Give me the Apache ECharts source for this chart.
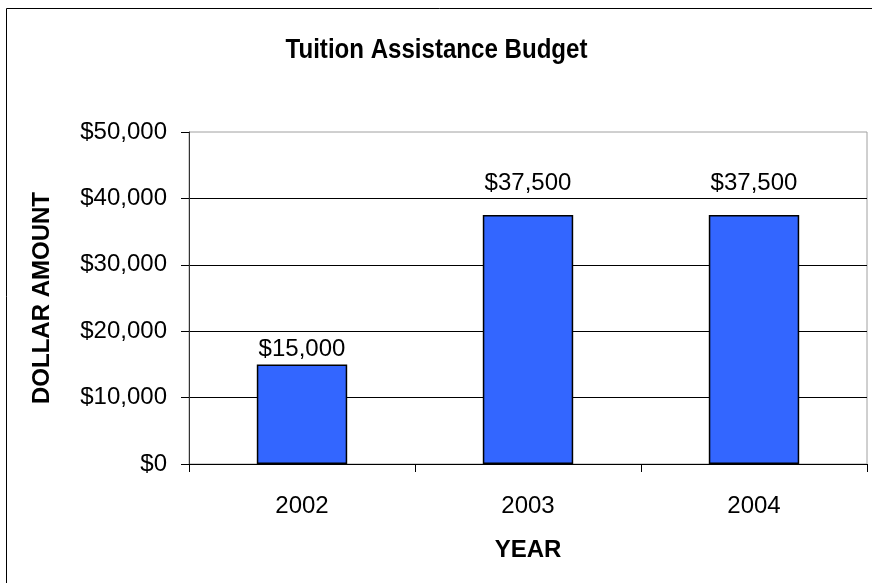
<!DOCTYPE html>
<html>
<head>
<meta charset="utf-8">
<script src="https://cdn.jsdelivr.net/npm/echarts@6/dist/echarts.min.js"></script>
<style>
html,body{margin:0;padding:0;background:#fff;}
#chart{width:872px;height:583px;}
</style>
</head>
<body>
<div id="chart"></div>
<script>
const titleText = 'Tuition Assistance Budget';
const categories = ['2002', '2003', '2004'];
const budgetValues = [15000, 37500, 37500];
const yTickMin = 0;
const yTickMax = 50000;
const yTickStep = 10000;
const xAxisName = 'YEAR';
const yAxisName = 'DOLLAR AMOUNT';

// label offsets above each bar (style, kept apart from data)
const labelDistances = [3, 20, 20];

const FONT = 'Arial, "Liberation Sans", sans-serif';
const money = v => '$' + Number(v).toLocaleString('en-US');

const chart = echarts.init(document.getElementById('chart'), null, {renderer: 'canvas'});
chart.setOption({
  animation: false,
  backgroundColor: '#ffffff',
  textStyle: {fontFamily: FONT, color: '#000'},
  graphic: [{
    type: 'rect',
    silent: true,
    z: -10,
    shape: {x: 6.5, y: 8.5, width: 900, height: 700},
    style: {fill: 'none', stroke: '#000', lineWidth: 1}
  }, {
    type: 'text',
    silent: true,
    x: 436.5,
    y: 50,
    scaleX: 0.86,
    style: {
      text: titleText,
      font: 'bold 28px ' + FONT,
      fill: '#000',
      textAlign: 'center',
      textVerticalAlign: 'middle'
    }
  }],
  grid: {
    left: 189, top: 132, right: 5, bottom: 119,
    show: true, borderColor: '#a0a0a0', borderWidth: 1, backgroundColor: 'transparent'
  },
  xAxis: {
    type: 'category',
    data: categories,
    name: xAxisName,
    nameLocation: 'middle',
    nameGap: 74,
    nameTextStyle: {fontFamily: FONT, fontSize: 24, fontWeight: 'bold', color: '#000'},
    axisLine: {lineStyle: {color: '#000', width: 1}},
    axisTick: {show: true, length: 8, lineStyle: {color: '#000'}},
    axisLabel: {fontFamily: FONT, fontSize: 24, color: '#000', margin: 30},
    splitLine: {show: false}
  },
  yAxis: {
    type: 'value',
    min: yTickMin,
    max: yTickMax,
    interval: yTickStep,
    name: yAxisName,
    nameLocation: 'middle',
    nameGap: 135,
    nameRotate: 90,
    nameTextStyle: {fontFamily: FONT, fontSize: 24, fontWeight: 'bold', color: '#000'},
    axisLine: {show: true, lineStyle: {color: '#333', width: 1}},
    axisTick: {show: true, length: 8, lineStyle: {color: '#000'}},
    axisLabel: {fontFamily: FONT, fontSize: 24, color: '#000', margin: 22, formatter: money},
    splitLine: {show: true, showMinLine: false, showMaxLine: false, lineStyle: {color: '#000', width: 1}}
  },
  series: [{
    type: 'bar',
    data: budgetValues.map((v, i) => ({value: v, label: {distance: labelDistances[i]}})),
    barWidth: '40%',
    itemStyle: {color: '#3366FF', borderColor: '#000', borderWidth: 1.5},
    label: {
      show: true,
      position: 'top',
      fontFamily: FONT,
      fontSize: 24,
      color: '#000',
      formatter: p => money(p.value)
    }
  }]
});
</script>
</body>
</html>
